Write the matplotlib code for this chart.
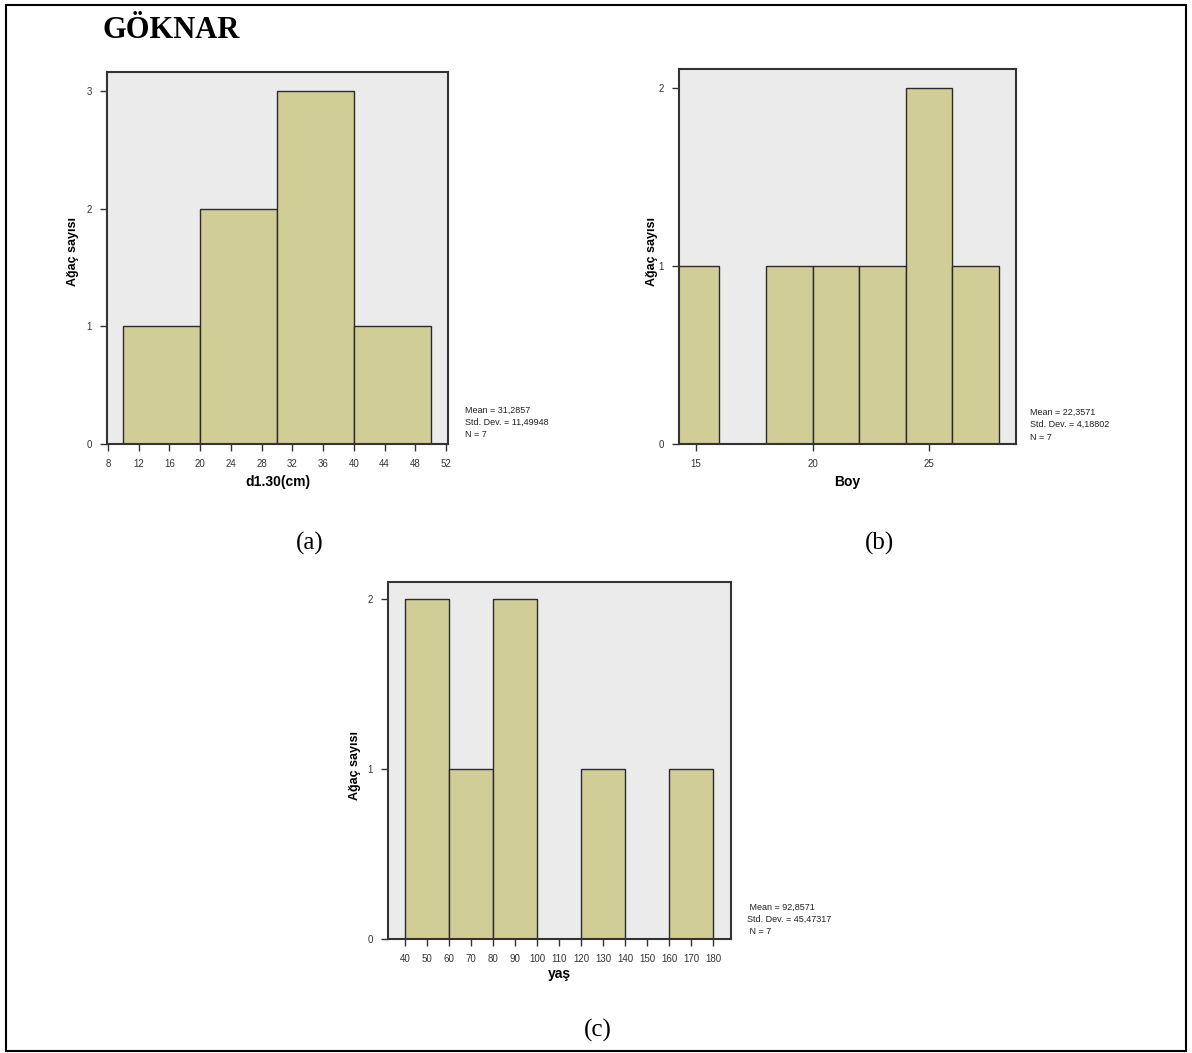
import matplotlib
matplotlib.use('Agg')
import matplotlib.pyplot as plt
from matplotlib.patches import Rectangle

plt.rcParams['font.family'] = 'Liberation Sans'

W, H = 1192, 1053

# histogram data (bin edges, counts)
d130_edges = [10, 20, 30, 40, 50]
d130_counts = [1, 2, 3, 1]
boy_edges = [14, 16, 18, 20, 22, 24, 26, 28]
boy_counts = [1, 0, 1, 1, 1, 2, 1]
yas_edges = [40, 60, 80, 100, 120, 140, 160, 180]
yas_counts = [2, 1, 2, 0, 1, 0, 1]

d130_ticks = list(range(8, 53, 4))
boy_ticks = [15, 20, 25]
yas_ticks = list(range(40, 181, 10))

stats_a = ['Mean = 31,2857', 'Std. Dev. = 11,49948', 'N = 7']
stats_b = ['Mean = 22,3571', 'Std. Dev. = 4,18802', 'N = 7']
stats_c = [' Mean = 92,8571', 'Std. Dev. = 45,47317', ' N = 7']

BAR = '#D1CD96'
BG = '#EBEBEB'
EDGE = '#2b2b2b'


def rect(l, t, r, b):
    return [l / W, 1 - b / H, (r - l) / W, (b - t) / H]


def histo(ax, edges, counts, xlim, ylim, xticks, xlabel, ylabel_xy, lpad):
    ax.set_facecolor(BG)
    widths = [edges[i + 1] - edges[i] for i in range(len(counts))]
    ax.bar(edges[:-1], counts, width=widths, align='edge', color=BAR,
           edgecolor=EDGE, linewidth=1.0, zorder=2)
    ax.set_xlim(*xlim)
    ax.set_ylim(*ylim)
    ax.set_xticks(xticks)
    ax.set_yticks(range(int(ylim[1]) + 1))
    ax.tick_params(direction='out', length=5, width=1, colors='#333333',
                   labelsize=7, pad=6)
    for s in ax.spines.values():
        s.set_color('#333333')
        s.set_linewidth(1.5)
    ax.set_xlabel(xlabel, fontsize=10, fontweight='bold', labelpad=lpad)
    fig.text(ylabel_xy[0] / W, 1 - ylabel_xy[1] / H, 'Ağaç sayısı', rotation=90,
             ha='center', va='center', fontsize=9, fontweight='bold')


fig = plt.figure(figsize=(W / 100, H / 100), dpi=100)

# outer frame
fig.patches.append(Rectangle((6 / W, 2 / H), (1180 / W), (1048 / H) - 2 / H,
                             transform=fig.transFigure, fill=False,
                             edgecolor='black', linewidth=1.5))

fig.text(103 / W, 1 - 30 / H, 'GÖKNAR', family='Liberation Serif',
         fontweight='bold', fontsize=22, ha='left', va='center')

ax_a = fig.add_axes(rect(107, 72, 448, 444))
histo(ax_a, d130_edges, d130_counts, (7.87, 52.26), (0, 3.16), d130_ticks,
      'd1.30(cm)', (73, 252), 4)

ax_b = fig.add_axes(rect(679, 69, 1016, 444))
histo(ax_b, boy_edges, boy_counts, (14.27, 28.73), (0, 2.107), boy_ticks,
      'Boy', (652, 251), 4)

ax_c = fig.add_axes(rect(388, 582, 731, 939))
histo(ax_c, yas_edges, yas_counts, (32.3, 188.2), (0, 2.1), yas_ticks,
      'yaş', (355, 765), 2)

for lines, x, y0 in [(stats_a, 465, 410), (stats_b, 1030, 412), (stats_c, 747, 907)]:
    for i, s in enumerate(lines):
        fig.text(x / W, 1 - (y0 + i * 12.5) / H, s, fontsize=6.5,
                 ha='left', va='center', color='#222222')

for lab, x, y in [('(a)', 310, 543), ('(b)', 880, 543), ('(c)', 598, 1030)]:
    fig.text(x / W, 1 - y / H, lab, family='Liberation Serif', fontsize=18,
             ha='center', va='center')

fig.savefig('out.png', dpi=100)
